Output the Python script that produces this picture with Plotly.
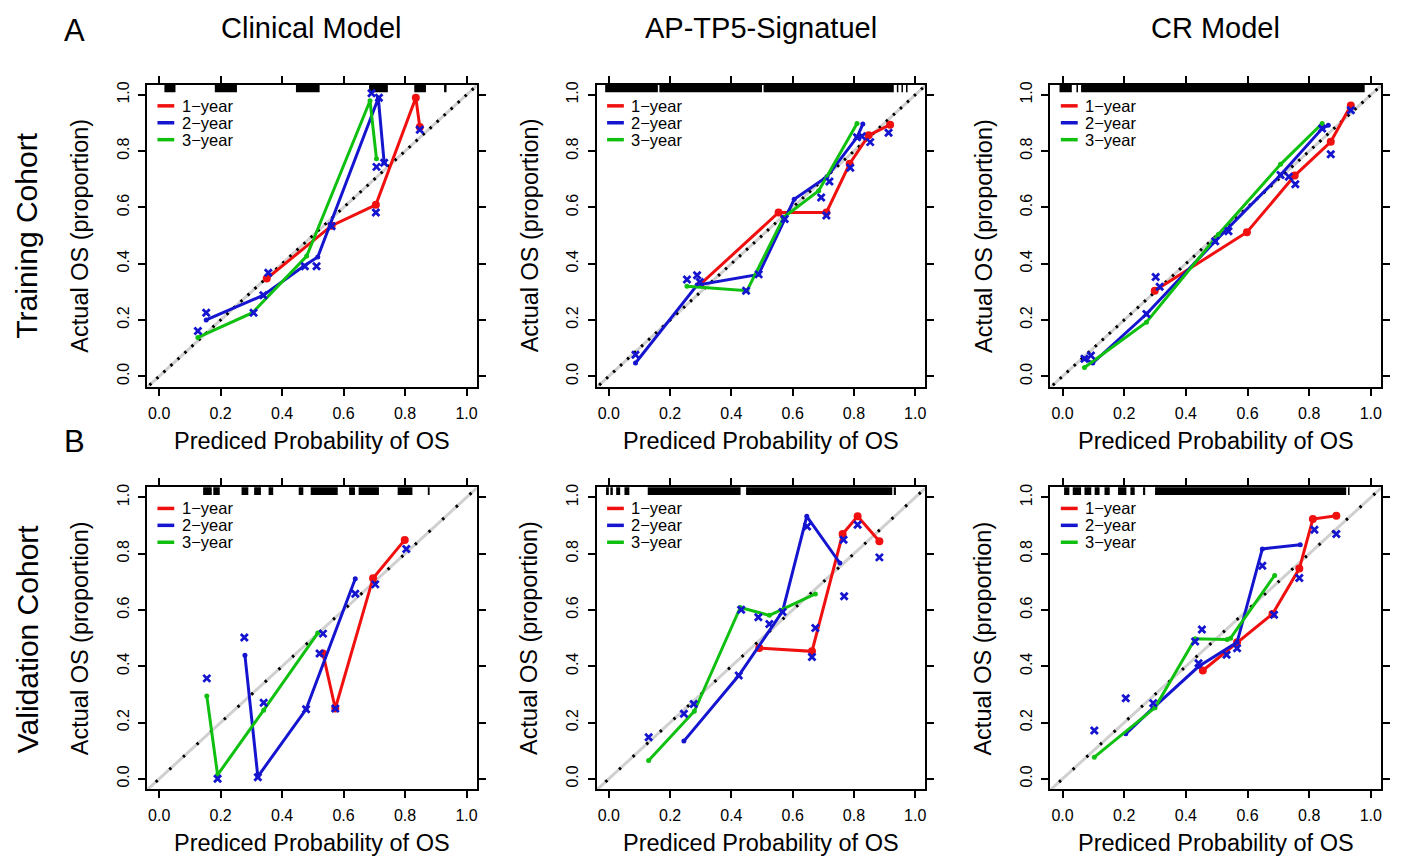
import plotly.graph_objects as go

# ---------------- data ----------------
# Panel A1: Training cohort, Clinical Model
p1_red_x = [0.350, 0.561, 0.705, 0.835, 0.848]
p1_red_y = [0.347, 0.535, 0.609, 0.990, 0.886]
p1_blue_x = [0.153, 0.339, 0.471, 0.516, 0.713, 0.732]
p1_blue_y = [0.200, 0.288, 0.392, 0.424, 0.988, 0.759]
p1_green_x = [0.126, 0.304, 0.480, 0.686, 0.707]
p1_green_y = [0.138, 0.226, 0.427, 0.979, 0.773]
p1_obs_x = [0.126, 0.153, 0.307, 0.339, 0.355, 0.474, 0.512, 0.561, 0.691, 0.715, 0.707, 0.732, 0.705, 0.848]
p1_obs_y = [0.161, 0.226, 0.226, 0.288, 0.368, 0.391, 0.391, 0.533, 1.006, 0.990, 0.744, 0.759, 0.582, 0.876]
p1_rug = [[0.017, 0.053], [0.181, 0.253], [0.445, 0.522], [0.683, 0.744], [0.830, 0.868], [0.927, 0.935]]

# Panel A2: Training cohort, AP-TP5-Signatuel
p2_red_x = [0.299, 0.554, 0.710, 0.786, 0.848, 0.918]
p2_red_y = [0.327, 0.582, 0.582, 0.755, 0.856, 0.894]
p2_blue_x = [0.087, 0.288, 0.489, 0.574, 0.605, 0.712, 0.810, 0.829]
p2_blue_y = [0.047, 0.324, 0.362, 0.559, 0.629, 0.709, 0.849, 0.896]
p2_green_x = [0.255, 0.451, 0.571, 0.685, 0.810]
p2_green_y = [0.320, 0.304, 0.565, 0.659, 0.898]
p2_obs_x = [0.087, 0.255, 0.288, 0.297, 0.489, 0.448, 0.574, 0.720, 0.693, 0.710, 0.788, 0.810, 0.826, 0.853, 0.913]
p2_obs_y = [0.076, 0.344, 0.359, 0.335, 0.362, 0.304, 0.559, 0.692, 0.635, 0.571, 0.741, 0.849, 0.853, 0.832, 0.865]
p2_rug = [[-0.012, 0.160], [0.165, 0.500], [0.505, 0.930], [0.940, 0.945], [0.955, 0.960], [0.970, 0.975]]

# Panel A3: Training cohort, CR Model
p3_red_x = [0.299, 0.598, 0.753, 0.870, 0.935]
p3_red_y = [0.304, 0.512, 0.713, 0.833, 0.962]
p3_blue_x = [0.071, 0.098, 0.272, 0.495, 0.707, 0.842, 0.862]
p3_blue_y = [0.062, 0.047, 0.221, 0.480, 0.715, 0.880, 0.892]
p3_green_x = [0.071, 0.272, 0.505, 0.707, 0.842]
p3_green_y = [0.031, 0.192, 0.504, 0.753, 0.898]
p3_obs_x = [0.071, 0.092, 0.272, 0.302, 0.315, 0.495, 0.538, 0.707, 0.734, 0.755, 0.842, 0.870, 0.935]
p3_obs_y = [0.062, 0.074, 0.221, 0.353, 0.318, 0.480, 0.515, 0.715, 0.709, 0.682, 0.880, 0.789, 0.945]
p3_rug = [[-0.010, 0.030], [0.045, 0.050], [0.060, 0.980]]

# Panel B1: Validation cohort, Clinical Model
p4_red_x = [0.533, 0.573, 0.696, 0.799]
p4_red_y = [0.445, 0.250, 0.713, 0.849]
p4_blue_x = [0.279, 0.321, 0.478, 0.638]
p4_blue_y = [0.439, 0.008, 0.247, 0.711]
p4_green_x = [0.155, 0.190, 0.340, 0.516]
p4_green_y = [0.294, 0.014, 0.244, 0.518]
p4_obs_x = [0.155, 0.190, 0.277, 0.321, 0.340, 0.478, 0.522, 0.533, 0.573, 0.638, 0.703, 0.804]
p4_obs_y = [0.357, 0.000, 0.502, 0.006, 0.270, 0.247, 0.445, 0.516, 0.250, 0.658, 0.691, 0.817]
p4_rug = [[0.143, 0.171], [0.176, 0.197], [0.268, 0.290], [0.309, 0.331], [0.356, 0.371],
          [0.454, 0.469], [0.493, 0.581], [0.618, 0.637], [0.649, 0.715], [0.776, 0.824], [0.874, 0.880]]

# Panel B2: Validation cohort, AP-TP5-Signatuel
p5_red_x = [0.491, 0.663, 0.763, 0.812, 0.883]
p5_red_y = [0.465, 0.453, 0.870, 0.933, 0.844]
p5_blue_x = [0.245, 0.424, 0.567, 0.646, 0.754]
p5_blue_y = [0.134, 0.367, 0.595, 0.933, 0.767]
p5_green_x = [0.130, 0.279, 0.429, 0.524, 0.674]
p5_green_y = [0.065, 0.240, 0.609, 0.581, 0.657]
p5_obs_x = [0.130, 0.245, 0.277, 0.424, 0.432, 0.488, 0.524, 0.567, 0.647, 0.663, 0.674, 0.768, 0.766, 0.812, 0.883]
p5_obs_y = [0.148, 0.231, 0.266, 0.367, 0.601, 0.574, 0.550, 0.593, 0.897, 0.433, 0.536, 0.649, 0.850, 0.903, 0.787]
p5_rug = [[-0.009, 0.000], [0.005, 0.013], [0.024, 0.037], [0.051, 0.067], [0.127, 0.430],
          [0.448, 0.925], [0.930, 0.937]]

# Panel B3: Validation cohort, CR Model
p6_red_x = [0.455, 0.566, 0.681, 0.768, 0.812, 0.888]
p6_red_y = [0.385, 0.485, 0.586, 0.747, 0.923, 0.935]
p6_blue_x = [0.205, 0.294, 0.441, 0.566, 0.648, 0.771]
p6_blue_y = [0.160, 0.252, 0.399, 0.485, 0.817, 0.832]
p6_green_x = [0.103, 0.300, 0.430, 0.534, 0.545, 0.688]
p6_green_y = [0.077, 0.253, 0.498, 0.495, 0.500, 0.723]
p6_obs_x = [0.103, 0.205, 0.294, 0.430, 0.452, 0.441, 0.532, 0.566, 0.648, 0.686, 0.768, 0.817, 0.888]
p6_obs_y = [0.172, 0.286, 0.269, 0.488, 0.531, 0.411, 0.441, 0.464, 0.757, 0.583, 0.714, 0.885, 0.870]
p6_rug = [[0.005, 0.022], [0.033, 0.060], [0.071, 0.093], [0.104, 0.120], [0.136, 0.153],
          [0.180, 0.207], [0.220, 0.234], [0.261, 0.268], [0.300, 0.920], [0.926, 0.931]]

column_titles = ["Clinical Model", "AP-TP5-Signatuel", "CR Model"]
row_titles = ["Training Cohort", "Validation Cohort"]
panel_letters = ["A", "B"]
legend_labels = ["1\u2212year", "2\u2212year", "3\u2212year"]
tick_values = [0, 0.2, 0.4, 0.6, 0.8, 1.0]
tick_labels = ["0.0", "0.2", "0.4", "0.6", "0.8", "1.0"]
x_title = "Prediced Probability of OS"
y_title = "Actual OS (proportion)"

panels = [
    dict(red=(p1_red_x, p1_red_y), blue=(p1_blue_x, p1_blue_y), green=(p1_green_x, p1_green_y), obs=(p1_obs_x, p1_obs_y), rug=p1_rug),
    dict(red=(p2_red_x, p2_red_y), blue=(p2_blue_x, p2_blue_y), green=(p2_green_x, p2_green_y), obs=(p2_obs_x, p2_obs_y), rug=p2_rug),
    dict(red=(p3_red_x, p3_red_y), blue=(p3_blue_x, p3_blue_y), green=(p3_green_x, p3_green_y), obs=(p3_obs_x, p3_obs_y), rug=p3_rug),
    dict(red=(p4_red_x, p4_red_y), blue=(p4_blue_x, p4_blue_y), green=(p4_green_x, p4_green_y), obs=(p4_obs_x, p4_obs_y), rug=p4_rug),
    dict(red=(p5_red_x, p5_red_y), blue=(p5_blue_x, p5_blue_y), green=(p5_green_x, p5_green_y), obs=(p5_obs_x, p5_obs_y), rug=p5_rug),
    dict(red=(p6_red_x, p6_red_y), blue=(p6_blue_x, p6_blue_y), green=(p6_green_x, p6_green_y), obs=(p6_obs_x, p6_obs_y), rug=p6_rug),
]

# ---------------- styling / layout ----------------
W, H = 1402, 857
FONT = "Liberation Sans, Arial, sans-serif"
RED, BLUE, GREEN = "#F01010", "#1515D0", "#10C010"
col_px = [(147, 477), (597, 926), (1051, 1382)]
row_px = [(82, 385), (486, 789)]
x_domains = [[a / W, b / W] for a, b in col_px]
y_domains = [[1 - b / H, 1 - a / H] for a, b in row_px]
X_RANGE = [-0.04, 1.033]
Y_RANGE = [-0.037, 1.036]

fig = go.Figure()
layout = dict(width=W, height=H, margin=dict(l=0, r=0, t=0, b=0),
              paper_bgcolor="white", plot_bgcolor="white", showlegend=False,
              font=dict(family=FONT, color="black"))
annotations = []
shapes = []

for i, p in enumerate(panels):
    r, c = divmod(i, 3)
    sfx = "" if i == 0 else str(i + 1)
    xa, ya = "x" + sfx, "y" + sfx
    dense = (r == 0)

    # diagonal reference line
    fig.add_trace(go.Scatter(x=[-0.1, 1.1], y=[-0.1, 1.1], mode="lines", xaxis=xa, yaxis=ya,
                             line=dict(color="#d0d0d0", width=3), hoverinfo="skip"))
    fig.add_trace(go.Scatter(x=[-0.1, 1.1], y=[-0.1, 1.1], mode="lines", xaxis=xa, yaxis=ya,
                             line=dict(color="black", width=3,
                                       dash="2.5px,7px" if dense else "2.5px,16px"),
                             hoverinfo="skip"))

    # rug of predicted probabilities along the top edge
    rx, ry = [], []
    for a, b in p["rug"]:
        rx += [a, b, None]
        ry += [1.023, 1.023, None]
    fig.add_trace(go.Scatter(x=rx, y=ry, mode="lines", xaxis=xa, yaxis=ya,
                             line=dict(color="black", width=8), hoverinfo="skip"))

    # calibration curves
    for key, col, msize in (("red", RED, 8), ("blue", BLUE, 5), ("green", GREEN, 5)):
        xs, ys = p[key]
        fig.add_trace(go.Scatter(x=xs, y=ys, mode="lines+markers", xaxis=xa, yaxis=ya,
                                 line=dict(color=col, width=3),
                                 marker=dict(color=col, size=msize), name=key))
    ox, oy = p["obs"]
    fig.add_trace(go.Scatter(x=ox, y=oy, mode="markers", xaxis=xa, yaxis=ya,
                             marker=dict(symbol="x-thin", size=7, color=BLUE,
                                         line=dict(color=BLUE, width=2.8)),
                             name="observed"))

    common = dict(showline=True, mirror="ticks", linecolor="black", linewidth=2,
                  ticks="outside", ticklen=7, tickwidth=1.5, tickcolor="black",
                  showgrid=False, zeroline=False, tickvals=tick_values, ticktext=tick_labels,
                  tickfont=dict(family=FONT, size=16, color="black"), fixedrange=True)
    layout["xaxis" + sfx] = dict(common, domain=x_domains[c], range=X_RANGE, anchor=ya,
                                 ticklabelstandoff=4)
    layout["yaxis" + sfx] = dict(common, domain=y_domains[r], range=Y_RANGE, anchor=xa,
                                 tickangle=-90, ticklabelstandoff=3)

    # legend (drawn inside each panel)
    for k, (lab, col) in enumerate(zip(legend_labels, (RED, BLUE, GREEN))):
        yy = 0.93 - k * 0.056
        shapes.append(dict(type="line", xref=xa + " domain", yref=ya + " domain",
                           x0=0.032, x1=0.083, y0=yy, y1=yy, line=dict(color=col, width=3.5)))
        annotations.append(dict(text=lab, xref=xa + " domain", yref=ya + " domain",
                                x=0.102, y=yy, xanchor="left", yanchor="middle", showarrow=False,
                                font=dict(family=FONT, size=16.5, color="black"),
                                borderpad=0))

    # axis titles
    cx = (col_px[c][0] + col_px[c][1]) / 2 / W
    ty = 440 if r == 0 else 843
    annotations.append(dict(text=x_title, xref="paper", yref="paper", x=cx, y=1 - ty / H,
                            xanchor="center", yanchor="middle", showarrow=False,
                            font=dict(family=FONT, size=23.5, color="black")))
    cy = 1 - (row_px[r][0] + row_px[r][1]) / 2 / H
    annotations.append(dict(text=y_title, xref="paper", yref="paper",
                            x=(col_px[c][0] - 67) / W, y=cy, textangle=-90,
                            xanchor="center", yanchor="middle", showarrow=False,
                            font=dict(family=FONT, size=23.5, color="black")))

# column titles
for c, t in enumerate(column_titles):
    annotations.append(dict(text=t, xref="paper", yref="paper",
                            x=(col_px[c][0] + col_px[c][1]) / 2 / W, y=1 - 25 / H,
                            xanchor="center", yanchor="middle", showarrow=False,
                            font=dict(family=FONT, size=29, color="black")))
# row titles
for r, t in enumerate(row_titles):
    annotations.append(dict(text=t, xref="paper", yref="paper", x=27 / W,
                            y=1 - (row_px[r][0] + row_px[r][1]) / 2 / H, textangle=-90,
                            xanchor="center", yanchor="middle", showarrow=False,
                            font=dict(family=FONT, size=30, color="black")))
# panel letters
for r, (t, yy) in enumerate(zip(panel_letters, (28, 440))):
    annotations.append(dict(text=t, xref="paper", yref="paper", x=75 / W, y=1 - yy / H,
                            xanchor="center", yanchor="middle", showarrow=False,
                            font=dict(family=FONT, size=31, color="black")))

layout["annotations"] = annotations
layout["shapes"] = shapes
fig.update_layout(**layout)
fig.write_html("out.html", config={"displayModeBar": False},
               post_script="document.body.style.margin='0';document.body.style.overflow='hidden';")
